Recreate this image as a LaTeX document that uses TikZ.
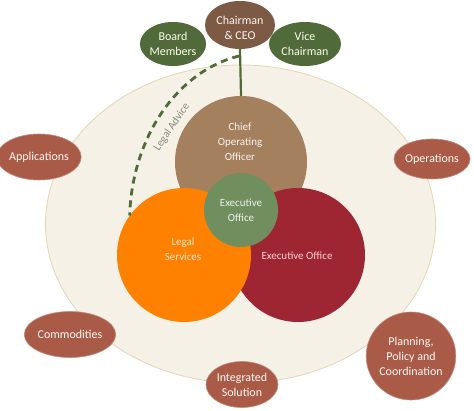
\documentclass[tikz,border=0pt]{standalone}
\usepackage{fontspec}
\setmainfont{Carlito}
\usetikzlibrary{shapes.geometric}
\definecolor{bigfill}{HTML}{F6F1E7}
\definecolor{bigdraw}{HTML}{E3D6B4}
\definecolor{coofill}{HTML}{A5805E}
\definecolor{orangefill}{HTML}{FF8102}
\definecolor{redfill}{HTML}{9D2632}
\definecolor{greenfill}{HTML}{718F5E}
\definecolor{chairfill}{HTML}{7C5A44}
\definecolor{darkgreen}{HTML}{506A3A}
\definecolor{rust}{HTML}{AA5B48}
\definecolor{advgray}{HTML}{8A8A80}
\tikzset{
  bigcirc/.style={circle, inner sep=0pt, minimum size=#1},
  topell/.style={ellipse, inner sep=0pt, minimum width=66pt, minimum height=44pt, text=white!92!yellow, align=center, font=\fontsize{12}{15}\selectfont},
  outell/.style={ellipse, fill=rust, draw=rust!70!white, line width=0.6pt, inner sep=0pt, minimum width=72pt, minimum height=46pt, text=white!95!orange, align=center, font=\fontsize{12}{15}\selectfont},
  intext/.style={align=center, font=\fontsize{11}{15}\selectfont, inner sep=0pt},
  link/.style={draw=darkgreen, line width=2.2pt}
}
\begin{document}
\begin{tikzpicture}[x=1pt,y=-1pt]
\useasboundingbox (0,0) rectangle (474,411);
\fill[white] (0,0) rectangle (474,411);
% big ellipse
\node[ellipse, fill=bigfill, draw=bigdraw, line width=0.8pt, minimum width=390pt, minimum height=318pt, inner sep=0pt] (big) at (240.5,224) {};
\coordinate (advstart) at (239,56);
% inner circles
\node[bigcirc=132pt, fill=coofill] (coo) at (241,162) {};
\node[bigcirc=134pt, fill=redfill] (exec) at (298,255) {};
\node[bigcirc=134pt, fill=orangefill] (legal) at (184,255) {};
\node[bigcirc=74pt, fill=greenfill] (eo) at (241,210) {};
% texts inside circles
\node[intext, text=white!90!coofill] (cootext) at (240,142) {Chief\\Operating\\Officer};
\node[intext, text=white!80!orange] (legaltext) at (183,249) {Legal\\Services};
\node[intext, text=white!82!red] (exectext) at (297,256) {Executive Office};
\node[intext, text=white!88!greenfill] (eotext) at (241,210.5) {Executive\\Office};
% top nodes
\node[topell, fill=chairfill, minimum width=70pt, minimum height=48pt] (chair) at (240,25) {};
\node[intext, font=\fontsize{12}{15}\selectfont, text=white!92!orange] (chairtext) at (240,27.5) {Chairman\\\& CEO};
\node[topell, fill=darkgreen] (board) at (173,44) {Board\\Members};
\node[topell, fill=darkgreen, minimum width=72pt] (vice) at (305,44) {Vice\\Chairman};
% connectors
\draw[link] (chair.south) -- (coo.north);
\draw[darkgreen, line width=2.8pt, dash pattern=on 7pt off 5pt] (advstart) .. controls (175,72) and (132,140) .. (legal.144);
% legal advice label
\node[intext, text=advgray, rotate=56] (advtext) at (172,127) {Legal Advice};
% outer nodes
\node[outell] (app) at (39,157) {Applications};
\node[outell, minimum width=68pt, minimum height=40pt] (ops) at (432,159) {Operations};
\node[outell] (comm) at (70,334.5) {Commodities};
\node[outell] (integ) at (242,384.5) {Integrated\\Solution};
\node[outell, minimum width=72pt, minimum height=88pt] (plan) at (411,356) {Planning,\\Policy and\\Coordination};
\end{tikzpicture}
\end{document}
